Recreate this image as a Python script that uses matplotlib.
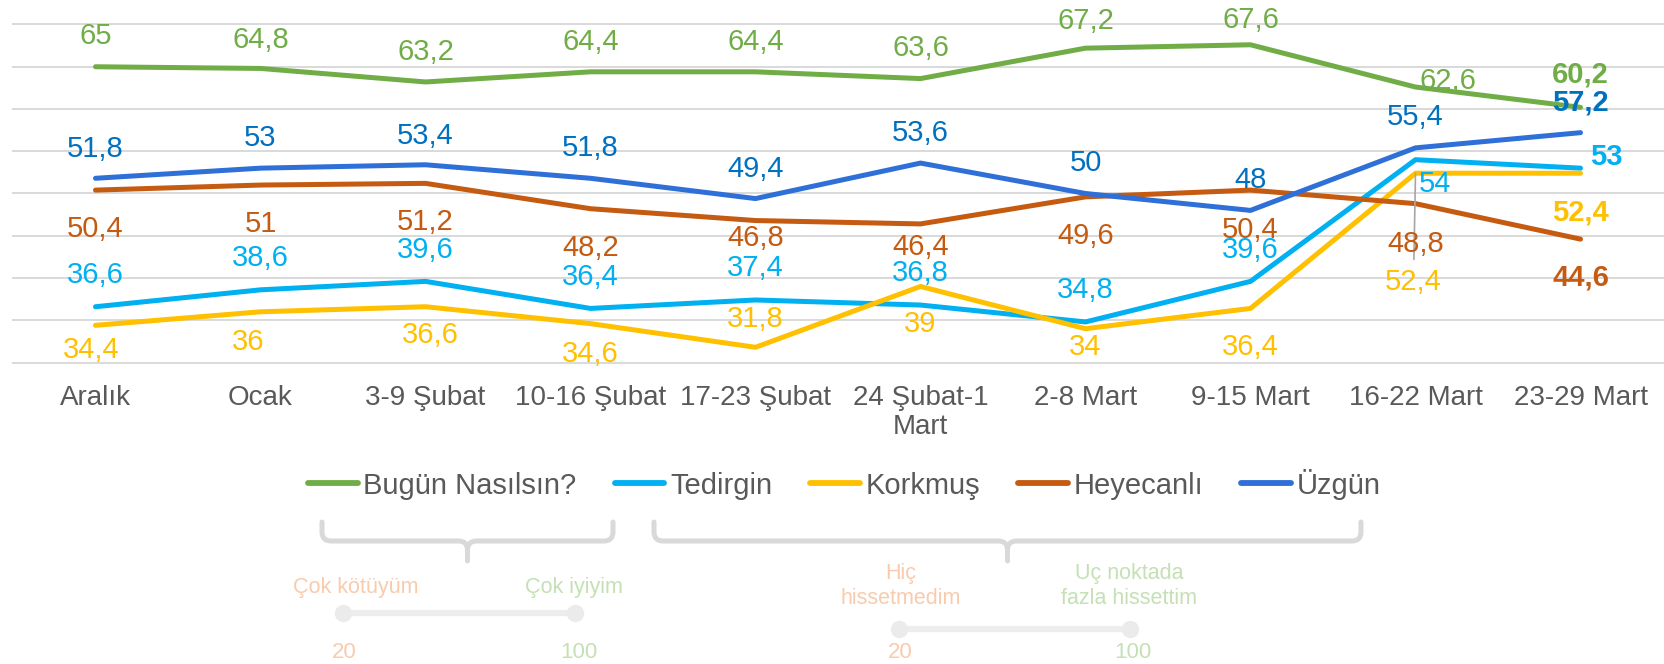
import matplotlib
matplotlib.use('Agg')
import matplotlib.pyplot as plt
from matplotlib.path import Path
from matplotlib.patches import PathPatch

plt.rcParams['font.family'] = ['Liberation Sans', 'DejaVu Sans']

weeks = ['Aralık', 'Ocak', '3-9 Şubat', '10-16 Şubat', '17-23 Şubat',
         '24 Şubat-1\nMart', '2-8 Mart', '9-15 Mart', '16-22 Mart', '23-29 Mart']
bugun = [65, 64.8, 63.2, 64.4, 64.4, 63.6, 67.2, 67.6, 62.6, 60.2]
tedirgin = [36.6, 38.6, 39.6, 36.4, 37.4, 36.8, 34.8, 39.6, 54, 53]
korkmus = [34.4, 36, 36.6, 34.6, 31.8, 39, 34, 36.4, 52.4, 52.4]
heyecanli = [50.4, 51, 51.2, 48.2, 46.8, 46.4, 49.6, 50.4, 48.8, 44.6]
uzgun = [51.8, 53, 53.4, 51.8, 49.4, 53.6, 50, 48, 55.4, 57.2]

# label offsets in pixels (right, up) of the digits' visual centre
off_bugun = [(0, 33), (0, 31), (0, 32), (0, 32), (0, 32), (0, 33), (0, 30), (0, 27), (32, 8), (0, 35)]
off_tedirgin = [(0, 34)] * 8 + [(19, -22), (26, 14)]
off_korkmus = [(-4, -22), (-12, -28), (5, -26), (0, -28), (0, 31), (0, -35), (0, -16), (0, -36), (-2, -106), (0, -37)]
off_heyecanli = [(0, -36), (0, -37), (0, -36), (0, -37), (0, -15), (0, -21), (0, -37), (0, -37), (0, -38), (0, -36)]
off_uzgun = [(0, 32), (0, 33), (0, 31), (0, 33), (0, 32), (0, 33), (0, 33), (0, 33), (0, 33), (0, 33)]

series = [
    ('Bugün Nasılsın?', bugun, '#70AD47', '#70AD47', off_bugun),
    ('Tedirgin', tedirgin, '#00B0F0', '#00B0F0', off_tedirgin),
    ('Korkmuş', korkmus, '#FFC000', '#FFC000', off_korkmus),
    ('Heyecanlı', heyecanli, '#C55A11', '#C55A11', off_heyecanli),
    ('Üzgün', uzgun, '#2E6FD8', '#0070C0', off_uzgun),
]

W, H = 1665, 664
LABEL_FS = 21
half_cap = 0.716 * LABEL_FS * 100 / 72 / 2

fig = plt.figure(figsize=(W / 100, H / 100), dpi=100)
ax = fig.add_axes([13 / W, 1 - 362.5 / H, 1650 / W, 338 / H])

x = list(range(len(weeks)))
handles = []
for name, vals, lc, tc, offs in series:
    ln, = ax.plot(x, vals, color=lc, lw=3.6, solid_capstyle='round',
                  solid_joinstyle='round', label=name, zorder=3)
    handles.append(ln)
    for i, v in enumerate(vals):
        txt = ('%g' % v).replace('.', ',')
        last = i == len(vals) - 1
        kw = {}
        if name == 'Korkmuş' and i == 8:
            kw['arrowprops'] = dict(arrowstyle='-', color='#A6A6A6', lw=1.2,
                                    shrinkA=4, shrinkB=0)
        dx, dy = offs[i]
        ax.annotate(txt, (i, v), xytext=(dx, dy - half_cap), textcoords='offset pixels',
                    ha='center', va='baseline', fontsize=LABEL_FS, color=tc,
                    fontweight='bold' if last else 'normal', zorder=5, **kw)

ax.set_xlim(-0.5, 9.5)
ax.set_ylim(30, 70)
ax.set_yticks(range(30, 71, 5))
ax.set_yticklabels([])
ax.grid(axis='y', color='#D9D9D9', lw=1.4, zorder=0)
for gl in ax.get_ygridlines():
    gl.set_clip_on(False)
ax.set_axisbelow(True)
ax.tick_params(axis='y', length=0)
ax.set_xticks(x)
ax.set_xticklabels(weeks, fontsize=20, color='#595959', linespacing=1.15)
ax.tick_params(axis='x', length=0, pad=16)
for s in ax.spines.values():
    s.set_visible(False)

fig.legend(handles=handles, loc='center', bbox_to_anchor=(0.507, 1 - 484 / H),
           ncol=5, frameon=False, fontsize=21, handlelength=1.7,
           handletextpad=0.2, columnspacing=1.3, labelcolor='#595959')
for h in fig.legends[0].legend_handles:
    h.set_linewidth(4.2)

# bottom explanation: brackets and scales, drawn in pixel coordinates
ov = fig.add_axes([0, 0, 1, 1])
ov.set_xlim(0, W)
ov.set_ylim(H, 0)
ov.axis('off')


def bracket(left, right, top, mid, bottom, r=9):
    n = (left + right) / 2
    verts = [(left, top), (left, mid - r), (left, mid), (left + r, mid),
             (n - r, mid), (n, mid), (n, mid + r), (n, bottom),
             (n, mid + r), (n, mid), (n + r, mid),
             (right - r, mid), (right, mid), (right, mid - r), (right, top)]
    codes = [Path.MOVETO, Path.LINETO, Path.CURVE3, Path.CURVE3,
             Path.LINETO, Path.CURVE3, Path.CURVE3, Path.LINETO,
             Path.MOVETO, Path.CURVE3, Path.CURVE3,
             Path.LINETO, Path.CURVE3, Path.CURVE3, Path.LINETO]
    ov.add_patch(PathPatch(Path(verts, codes), fill=False, ec='#D9D9D9',
                           lw=3.6, capstyle='round', joinstyle='round'))


bracket(322, 613, 522, 541, 561)
bracket(654, 1361, 522, 541, 561)

low_c, high_c = '#F8CBAD', '#C5E0B4'


def slider(x0, x1, y):
    ov.plot([x0, x1], [y, y], color='#EDEDED', lw=4.5, solid_capstyle='butt')
    ov.plot([x0, x1], [y, y], 'o', color='#EBEBEB', ms=12.5, mec='none')


slider(343, 575, 613)
slider(899, 1130, 629)

SMALL = 15.5
ov.text(356, 587, 'Çok kötüyüm', ha='center', va='center', fontsize=SMALL, color=low_c)
ov.text(574, 587, 'Çok iyiyim', ha='center', va='center', fontsize=SMALL, color=high_c)
ov.text(344, 652, '20', ha='center', va='center', fontsize=16, color=low_c)
ov.text(579, 652, '100', ha='center', va='center', fontsize=16, color=high_c)
ov.text(901, 586, 'Hiç\nhissetmedim', ha='center', va='center', fontsize=SMALL,
        color=low_c, linespacing=1.3)
ov.text(1129, 586, 'Uç noktada\nfazla hissettim', ha='center', va='center',
        fontsize=SMALL, color=high_c, linespacing=1.3)
ov.text(900, 653, '20', ha='center', va='center', fontsize=16, color=low_c)
ov.text(1133, 653, '100', ha='center', va='center', fontsize=16, color=high_c)

fig.savefig('out.png', dpi=100)
